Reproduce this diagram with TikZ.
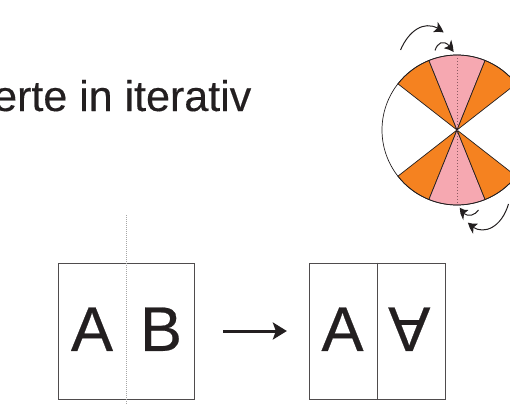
\documentclass[tikz,border=0pt]{standalone}
\usepackage{fontspec}
\setmainfont{Liberation Sans}
\usetikzlibrary{arrows.meta,bending}
\definecolor{ink}{HTML}{231F20}
\definecolor{sorange}{HTML}{F58220}
\definecolor{spink}{HTML}{F6A8B1}
\definecolor{dotred}{HTML}{8C5A62}
\tikzset{
  panel/.style={draw=ink!80, line width=0.9pt, minimum width=136pt, minimum height=136pt, inner sep=0pt},
  letter/.style={inner sep=0pt, text=ink, font=\fontsize{63}{70}\selectfont\addfontfeature{FakeBold=0.4}},
  bigarrow/.style={draw=ink, line width=3pt, -{Stealth[length=14pt,width=17pt,inset=3pt]}},
  curvarrow/.style={draw=ink, line width=1pt, -{Stealth[length=10pt,width=11pt,inset=2.5pt,bend]}},
  sectedge/.style={draw=ink, line width=0.7pt},
}
\begin{document}
\begin{tikzpicture}[x=1pt,y=-1pt]
\useasboundingbox (0,0) rectangle (510,404);
\clip (0,0) rectangle (510,404);
% title text (cut at left)
\node[anchor=base west, inner sep=0pt, text=ink, font=\fontsize{43}{50}\selectfont\addfontfeature{FakeBold=0.3}] (title) at (-7,111) {erte in iterativ};
% circle with sectors
\coordinate (C) at (457,130);
\foreach \a/\b/\c in {112/142/sorange, 68/112/spink, 38/68/sorange, 218/248/sorange, 248/292/spink, 292/322/sorange}{
  \filldraw[fill=\c, sectedge] (C) -- ++(-\a:75) arc[start angle=-\a, end angle=-\b, radius=75] -- cycle;
}
\draw[sectedge] (C) circle[radius=75];
\coordinate (ctop) at (457,55);
\coordinate (cbot) at (457,205);
\draw[dotred, line width=0.8pt, dash pattern=on 0.8pt off 2.2pt] (ctop) -- (cbot);
% curved arrows
\coordinate (a1s) at (400.5,50);
\coordinate (a1e) at (443.5,32.5);
\coordinate (a2s) at (435,50.5);
\coordinate (a2e) at (453.5,52);
\coordinate (a3s) at (478.5,210);
\coordinate (a3e) at (460,207.5);
\coordinate (a4s) at (508.5,204);
\coordinate (a4e) at (468,222.5);
\draw[curvarrow] (a1s) .. controls (410,28) and (428,18) .. (a1e);
\draw[curvarrow] (a2s) .. controls (438,41) and (446,38) .. (a2e);
\draw[curvarrow] (a3s) .. controls (474,217) and (463,218) .. (a3e);
\draw[curvarrow] (a4s) .. controls (500,232) and (478,236) .. (a4e);
% boxes
\node[panel] (L) at (126,331) {};
\node[panel] (R) at (377,331) {};
\draw[ink!80, line width=0.9pt] (R.north) -- (R.south);
\coordinate (dtop) at (126,215);
\coordinate (dbot) at (126,404);
\draw[gray!70, line width=0.7pt, dash pattern=on 0.8pt off 1.2pt] (dtop) -- (dbot);
% letters
\node[letter] (la) at (92,329.2) {A};
\node[letter] (lb) at (161,329.2) {B};
\node[letter] (ra) at (342.5,329.2) {A};
\node[letter, rotate=180] (rv) at (409.3,329.2) {A};
% main arrow
\draw[bigarrow, shorten <=28.7pt, shorten >=21.7pt] (L.east) -- (R.west);
\end{tikzpicture}
\end{document}
